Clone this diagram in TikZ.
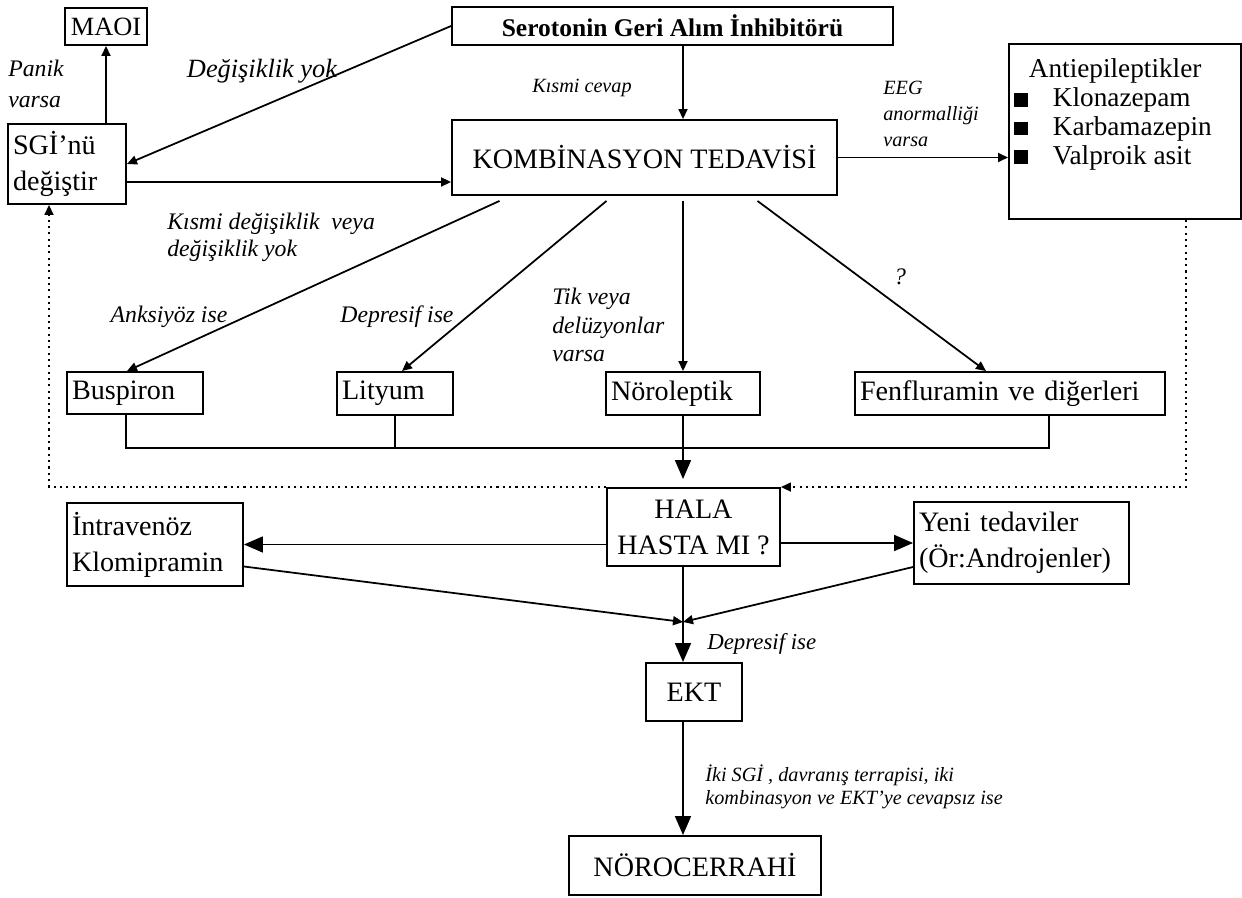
\documentclass[tikz,border=0pt]{standalone}
\usepackage{fontspec}
\setmainfont{Liberation Serif}
\usetikzlibrary{arrows.meta,calc}

\begin{document}
\begin{tikzpicture}[x=0.02cm, y=-0.02cm,
    box/.style={draw, line width=1.1pt, inner sep=0.1cm, font=\fontsize{16}{20.5}\selectfont},
    lbox/.style={box, align=left},
    lbl/.style={font=\fontsize{13.5}{16}\selectfont\itshape, inner sep=0pt, align=left},
    arrow/.style={-{Triangle[length=0.2cm,width=0.18cm]}, line width=1pt},
    bigarrow/.style={-{Triangle[length=0.38cm,width=0.32cm]}, line width=1pt},
    dotarrow/.style={-{Triangle[length=0.2cm,width=0.18cm]}, line width=0.9pt, dash pattern=on 1.2pt off 2.4pt}
  ]
    \useasboundingbox (0,0) rectangle (1242,898);

    \node[box, minimum width=1.64cm, minimum height=0.74cm, font=\fontsize{15}{18}\selectfont] (maoi) at (106,26.5) {MAOI};
    \node[lbox, text width=2.16cm, minimum height=1.6cm] (sgi) at (67,164) {SGİ’nü\\değiştir};
    \node[box, minimum width=8.82cm, minimum height=0.76cm, font=\fontsize{14.5}{17}\selectfont\bfseries] (sero) at (672.5,26) {Serotonin Geri Alım İnhibitörü};
    \node[box, minimum width=7.7cm, minimum height=1.5cm] (komb) at (644.5,157.5) {KOMBİNASYON TEDAVİSİ};
    \node[box, anchor=north west, font=\fontsize{15.5}{16.5}\selectfont] (anti) at (1008,43)
      {\parbox[c][3.3cm][t]{4.44cm}{\vspace*{5.5pt}\hspace*{0.3cm}Antiepileptikler\\
        \rule{0.28cm}{0.28cm}\hspace{0.5cm}Klonazepam\\
        \rule{0.28cm}{0.28cm}\hspace{0.5cm}Karbamazepin\\
        \rule{0.28cm}{0.28cm}\hspace{0.5cm}Valproik asit}};

    \node[lbox, text width=2.52cm, minimum height=0.84cm] (busp) at (135,393) {Buspiron};
    \node[lbox, text width=2.12cm, minimum height=0.86cm] (lity) at (395,393.5) {Lityum};
    \node[lbox, text width=2.88cm, minimum height=0.86cm] (noro) at (683,393.5) {Nöroleptik};
    \node[lbox, text width=6.0cm, minimum height=0.86cm] (fenf) at (1010,393.5) {Fenfluramin ve diğerleri};

    \node[box, minimum width=3.46cm, minimum height=1.56cm, align=center] (hala) at (693.5,527) {HALA\\HASTA MI ?};
    \node[lbox, text width=3.32cm, minimum height=1.66cm] (klom) at (155,544.5) {İntravenöz\\Klomipramin};
    \node[lbox, text width=4.1cm, minimum height=1.64cm] (yeni) at (1021.5,543) {Yeni tedaviler\\(Ör:Androjenler)};
    \node[box, minimum width=1.92cm, minimum height=1.16cm] (ekt) at (694,692) {EKT};
    \node[box, minimum width=5.04cm, minimum height=1.18cm] (noroc) at (695,865.5) {NÖROCERRAHİ};

    \coordinate (join) at (683,448);
    \coordinate (meet) at (683,622);

    \node[lbl, anchor=west, font=\fontsize{13.5}{17.5}\selectfont\itshape] (panik) at (8,84) {Panik\\varsa};
    \node[lbl, font=\fontsize{15}{17}\selectfont\itshape] (degyok) at (262,71) {Değişiklik yok};
    \node[lbl, font=\fontsize{11.5}{14}\selectfont\itshape] (kismi) at (582,88) {Kısmi cevap};
    \node[lbl, anchor=west, font=\fontsize{11.5}{14.8}\selectfont\itshape] (eeg) at (883,114) {EEG\\anormalliği\\varsa};
    \node[lbl, anchor=west, font=\fontsize{13.5}{15.4}\selectfont\itshape] (kdeg) at (167,237) {Kısmi değişiklik \ veya\\değişiklik yok};
    \node[lbl] (anks) at (169,317) {Anksiyöz ise};
    \node[lbl] (depr) at (397,317) {Depresif ise};
    \node[lbl, anchor=west] (tik) at (552,325) {Tik veya\\delüzyonlar\\varsa};
    \node[lbl] (soru) at (900,277) {?};
    \node[lbl, anchor=west, font=\fontsize{13}{15}\selectfont\itshape] (depr2) at (707,644) {Depresif ise};
    \node[lbl, anchor=west, font=\fontsize{11.5}{13}\selectfont\itshape] (iki) at (705,786.5) {İki SGİ , davranış terrapisi, iki\\kombinasyon ve EKT’ye cevapsız ise};

    \draw[arrow] (sgi.north -| maoi) -- (maoi.south);
    \draw[arrow] (sero.west) -- (sgi.east);
    \draw[arrow] ($(sgi.east)+(0,18)$) -- ($(komb.west)+(0,24.5)$);
    \draw[arrow] (sero.south -| join) -- (komb.north -| join);
    \draw[arrow] (komb.east) -- (anti.west |- komb.east);

    \draw[arrow] ($(komb.south)+(-145,5)$) -- ($(busp.north)+(-8,0)$);
    \draw[arrow] ($(komb.south)+(-38,5)$) -- ($(lity.north)+(7,0)$);
    \draw[arrow] ($(komb.south -| join)+(0,5)$) -- (noro.north);
    \draw[arrow] ($(komb.south)+(113,5)$) -- ($(fenf.north)+(-24,0)$);

    \draw[line width=1pt] ($(busp.south)+(-9,0)$) |- (join) -| ($(fenf.south)+(39,0)$);
    \draw[line width=1pt] (lity.south) -- (lity.south |- join);
    \draw[bigarrow] (noro.south) -- ($(hala.north -| join)+(0,-8)$);

    \draw[dotarrow] ($(anti.south)+(61,0)$) |- (hala.north east);
    \draw[dotarrow] (hala.north west) -| ($(sgi.south)+(-18,0)$);

    \draw[bigarrow] (hala.west |- klom.east) -- (klom.east);
    \draw[bigarrow] (hala.east |- yeni.west) -- (yeni.west);
    \draw[arrow] ($(klom.east)+(0,22)$) -- (meet);
    \draw[arrow] ($(yeni.west)+(0,24)$) -- (meet);
    \draw[line width=1pt] (hala.south -| join) -- (meet);
    \draw[bigarrow] (meet) -- (ekt.north -| join);
    \draw[bigarrow] (ekt.south -| join) -- (noroc.north -| join);
  \end{tikzpicture}
\end{document}
